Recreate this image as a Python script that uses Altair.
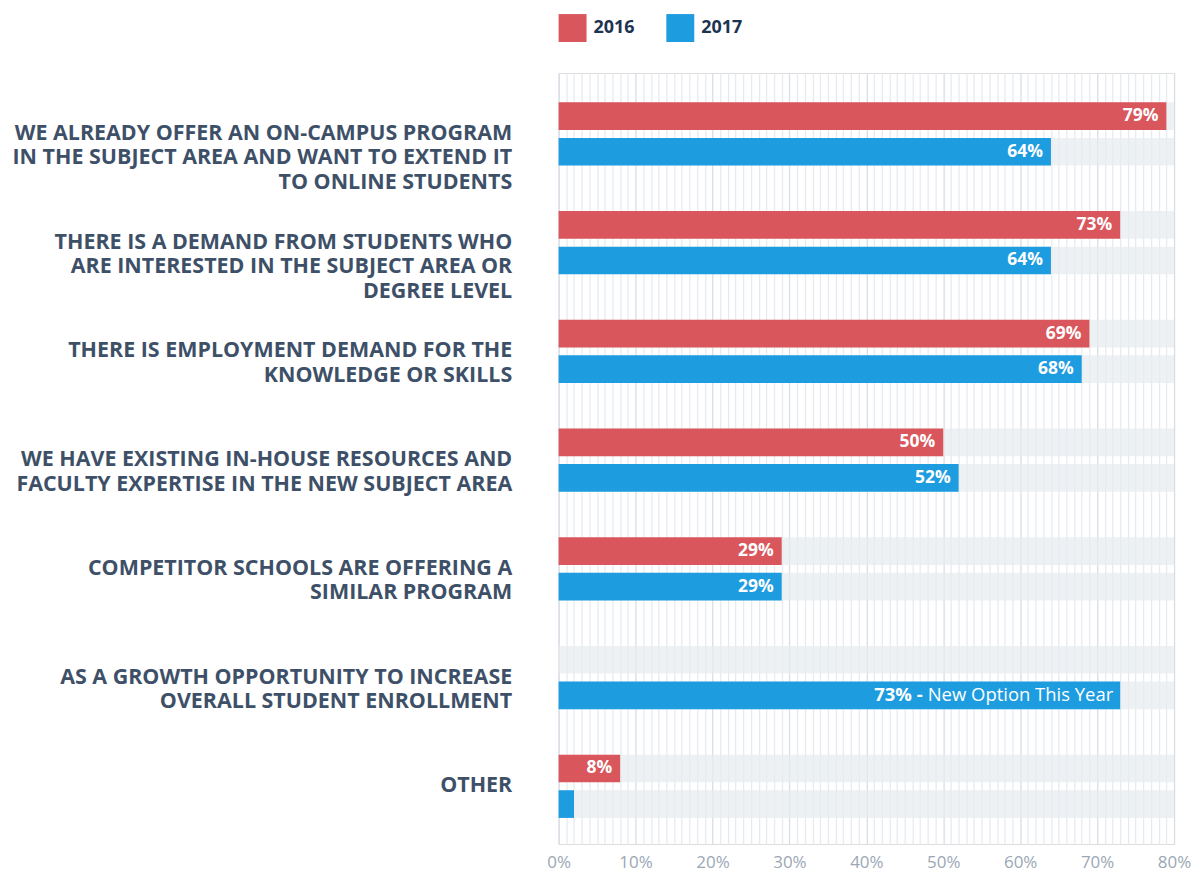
import altair as alt
import pandas as pd

categories = [
    "WE ALREADY OFFER AN ON-CAMPUS PROGRAM|IN THE SUBJECT AREA AND WANT TO EXTEND IT|TO ONLINE STUDENTS",
    "THERE IS A DEMAND FROM STUDENTS WHO|ARE INTERESTED IN THE SUBJECT AREA OR|DEGREE LEVEL",
    "THERE IS EMPLOYMENT DEMAND FOR THE|KNOWLEDGE OR SKILLS",
    "WE HAVE EXISTING IN-HOUSE RESOURCES AND|FACULTY EXPERTISE IN THE NEW SUBJECT AREA",
    "COMPETITOR SCHOOLS ARE OFFERING A|SIMILAR PROGRAM",
    "AS A GROWTH OPPORTUNITY TO INCREASE|OVERALL STUDENT ENROLLMENT",
    "OTHER",
]
years = ["2016", "2017"]
v2016 = [79, 73, 69, 50, 29, None, 8]
v2017 = [64, 64, 68, 52, 29, 73, 2]
labels2016 = ["79%", "73%", "69%", "50%", "29%", "", "8%"]
labels2017 = ["64%", "64%", "68%", "52%", "29%", "73% -", ""]
notes2017 = ["", "", "", "", "", "New Option This Year", ""]
axis_max = 80
grid_values = list(range(0, axis_max + 1))

rows = []
for i, c in enumerate(categories):
    rows.append({"category": c, "year": "2016", "value": v2016[i], "label": labels2016[i], "note": ""})
    rows.append({"category": c, "year": "2017", "value": v2017[i], "label": labels2017[i], "note": notes2017[i]})
df = pd.DataFrame(rows)

red = "#d9565c"
blue = "#1e9ce0"

y_axis = alt.Axis(
    title=None,
    ticks=False,
    domain=False,
    labelExpr="split(datum.label, '|')",
    labelFontSize=21.5,
    labelFontWeight="bold",
    labelColor="#3e5068",
    labelLineHeight=24.5,
    labelPadding=47,
    labelLimit=0,
    labelFont="Open Sans",
)
y_enc = alt.Y(
    "category:N",
    sort=categories,
    scale=alt.Scale(paddingInner=0.418, paddingOuter=0.255, align=0.53),
    axis=y_axis,
)
yoff = alt.YOffset("year:N", scale=alt.Scale(paddingInner=0.222, paddingOuter=0))

x_scale = alt.Scale(domain=[0, axis_max], nice=False, zero=True)
x_axis = alt.Axis(
    title=None,
    values=grid_values,
    labelExpr="datum.value % 10 === 0 ? datum.value + '%' : ''",
    labelOverlap=False,
    labelFontSize=17,
    labelColor="#9aa7b5",
    labelFont="Open Sans",
    labelPadding=11,
    labelFlush=False,
    ticks=False,
    domain=False,
    grid=True,
    gridColor=alt.condition("datum.value % 10 === 0", alt.value("#d7dee6"), alt.value("#e7ebf0")),
    gridWidth=1.3,
)

base = alt.Chart(df)

bg = base.mark_bar(color="#e8ebee", opacity=0.72).encode(
    x=alt.X("max_v:Q", scale=x_scale, axis=x_axis),
    y=y_enc,
    yOffset=yoff,
).transform_calculate(max_v=str(axis_max))

bars = base.mark_bar().encode(
    x=alt.X("value:Q", scale=x_scale, axis=x_axis),
    y=y_enc,
    yOffset=yoff,
    color=alt.Color(
        "year:N",
        scale=alt.Scale(domain=years, range=[red, blue]),
        legend=alt.Legend(
            title=None,
            orient="none",
            legendX=0,
            legendY=-59,
            direction="horizontal",
            symbolType="square",
            symbolSize=784,
            symbolStrokeWidth=0,
            symbolOpacity=1,
            labelFontSize=18,
            labelFontWeight="bold",
            labelColor="#1e3350",
            labelFont="Open Sans",
            labelOffset=7,
            columnPadding=31,
        ),
    ),
).transform_filter("isValid(datum.value)")

text = base.mark_text(
    align="right", baseline="middle", dx=-8, color="white",
    fontWeight="bold", fontSize=17.5, font="Open Sans",
).encode(
    x=alt.X("value:Q", scale=x_scale, axis=x_axis),
    y=y_enc,
    yOffset=yoff,
    text="label:N",
).transform_filter("datum.label != '' && datum.note == ''")

note_bold = base.mark_text(
    align="right", baseline="middle", dx=-198, color="white",
    fontWeight="bold", fontSize=18.5, font="Open Sans",
).encode(
    x=alt.X("value:Q", scale=x_scale, axis=x_axis),
    y=y_enc,
    yOffset=yoff,
    text="label:N",
).transform_filter("datum.note != ''")

note = base.mark_text(
    align="right", baseline="middle", dx=-7, color="white",
    fontWeight="normal", fontSize=18.5, font="Open Sans",
).encode(
    x=alt.X("value:Q", scale=x_scale, axis=x_axis),
    y=y_enc,
    yOffset=yoff,
    text="note:N",
).transform_filter("datum.note != ''")

chart = (
    alt.layer(bg, bars, text, note_bold, note)
    .properties(
        width=617,
        height=773,
        padding={"left": 3, "top": 5, "right": 0, "bottom": 0},
    )
    .configure_view(stroke=None)
    .configure(font="Open Sans")
)

chart.save("out.html", embed_options={"renderer": "svg", "actions": False})
